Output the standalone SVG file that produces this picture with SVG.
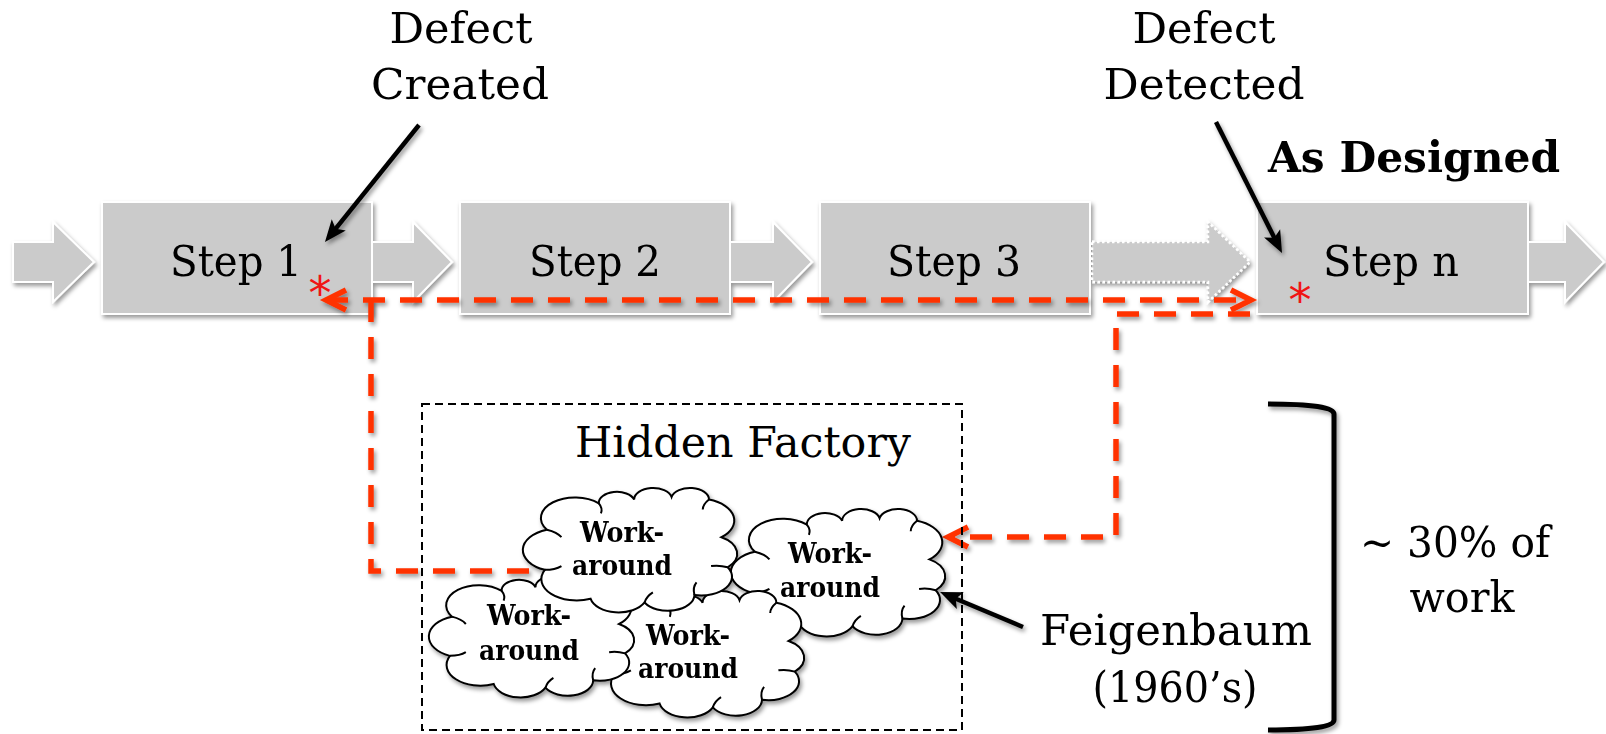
<svg xmlns="http://www.w3.org/2000/svg" xmlns:xlink="http://www.w3.org/1999/xlink" width="1606" height="734" viewBox="0 0 1606 734">
<defs>
<style>
.lbl{font-family:"DejaVu Serif","Liberation Serif",serif;font-size:42px;fill:#000;text-anchor:middle}
.bold{font-weight:bold}
.wk{font-family:"DejaVu Serif","Liberation Serif",serif;font-weight:bold;font-size:28px;fill:#000;text-anchor:middle}
.box{fill:#cbcbcb;stroke:#fff;stroke-width:2}
.blk{fill:#cbcbcb;stroke:#fff;stroke-width:2}
.dot{stroke-dasharray:2.5 2.5;stroke-width:2.5}
.red{fill:none;stroke:#ff3300;stroke-width:5.5;stroke-dasharray:22 15}
.ptr{fill:none;stroke:#000;stroke-width:4.5}
.star{font-family:"DejaVu Sans",sans-serif;font-size:46px;fill:#f01414;text-anchor:middle}
.cloud{fill:#fff;stroke:#000;stroke-width:2;vector-effect:non-scaling-stroke}
.crease{fill:none;stroke:#000;stroke-width:2;vector-effect:non-scaling-stroke}
.frame{fill:none;stroke:#000;stroke-width:2;stroke-dasharray:8 5}
</style>
<filter id="shadow" filterUnits="userSpaceOnUse" x="0" y="0" width="1606" height="734">
<feDropShadow dx="2" dy="3" stdDeviation="2" flood-color="#000" flood-opacity="0.4"/>
</filter>
<marker id="chev" markerUnits="userSpaceOnUse" overflow="visible" orient="auto-start-reverse" refX="0" refY="0" markerWidth="1" markerHeight="1">
<path d="M-20,-10 L0,0 L-20,10" fill="none" stroke="#ff3300" stroke-width="5.5"/>
</marker>
<marker id="head" markerUnits="userSpaceOnUse" overflow="visible" orient="auto" refX="0" refY="0" markerWidth="1" markerHeight="1">
<path d="M-10,-9 L12,0 L-10,9 L-5,0 Z" fill="#000"/>
</marker>
<!-- unit cloud, roughly 0..100 each way; scaled per instance -->
<g id="cloudUnit">
<path class="cloud" d="M9 34A16.4 16.4 0 0 1 34 13A8.7 8.7 0 0 1 51 10A9.1 9.1 0 0 1 69 8A9.1 9.1 0 0 1 87 10A17.5 17.5 0 0 1 93 40A15.2 15.2 0 0 1 96 64A14.8 14.8 0 0 1 80 86A12.8 12.8 0 0 1 56 92A13.8 13.8 0 0 1 30 89A17 17 0 0 1 8 66A17.1 17.1 0 0 1 9 34Z"/>
<path class="crease" d="M34 13Q36 17 35 21M87 10Q84 14 84 18M96 64Q92 62 88 63M80 86Q79 80 81 76M56 92Q57 87 60 84M8 66Q13 66 16 63M9 34Q14 36 16 40"/>
</g>
</defs>

<rect width="1606" height="734" fill="#fff"/>

<!-- process chain: block arrows and step boxes -->
<g id="flow" filter="url(#shadow)">
<path id="arrow-in" class="blk" d="M13 242H53V222L94 262L53 302V282H13Z"/>
<path id="arrow-1-2" class="blk" d="M368 242H413V222L452 262L413 302V282H368Z"/>
<path id="arrow-2-3" class="blk" d="M726 242H773V222L812 262L773 302V282H726Z"/>
<path id="arrow-3-n" class="blk dot" d="M1092 242H1208V222L1250 262L1208 302V282H1092Z"/>
<path id="arrow-out" class="blk" d="M1524 242H1565V222L1604 262L1565 302V282H1524Z"/>
<g id="step1"><rect class="box" x="102" y="202" width="270" height="112"/><text class="lbl" x="236" y="276" textLength="132" lengthAdjust="spacingAndGlyphs">Step 1</text></g>
<g id="step2"><rect class="box" x="460" y="202" width="270" height="112"/><text class="lbl" x="595" y="276" textLength="132" lengthAdjust="spacingAndGlyphs">Step 2</text></g>
<g id="step3"><rect class="box" x="820" y="202" width="270" height="112"/><text class="lbl" x="954" y="276" textLength="134" lengthAdjust="spacingAndGlyphs">Step 3</text></g>
<g id="stepn"><rect class="box" x="1257" y="202" width="271" height="112"/><text class="lbl" x="1391" y="276" textLength="136" lengthAdjust="spacingAndGlyphs">Step n</text></g>
</g>

<!-- defect markers -->
<g id="markers">
<text class="star" x="320" y="309">*</text>
<text class="star" x="1300" y="316">*</text>
</g>

<!-- connectors -->
<g id="connectors" filter="url(#shadow)">
<path class="red" d="M326 300H1251" marker-start="url(#chev)" marker-end="url(#chev)"/>
<path class="red" d="M1250 314H1116V537H948" marker-end="url(#chev)"/>
<path class="red" d="M371 300V571H745"/>
<line class="ptr" x1="419" y1="125" x2="332.5" y2="232.6" marker-end="url(#head)"/>
<line class="ptr" x1="1216" y1="122" x2="1276.6" y2="242.3" marker-end="url(#head)"/>
<line class="ptr" x1="1023" y1="627" x2="951.1" y2="596.7" marker-end="url(#head)"/>
<path class="ptr" style="stroke-width:5" d="M1268 404Q1334 404 1334 414V720Q1334 730 1268 730"/>
</g>

<!-- hidden factory -->
<g id="hidden-factory">
<rect class="frame" x="422" y="404" width="540" height="326"/>
<text class="lbl" x="743" y="457" textLength="336" lengthAdjust="spacingAndGlyphs">Hidden Factory</text>
<g filter="url(#shadow)">
<g id="cloud-b"><use xlink:href="#cloudUnit" transform="translate(736.2 508) scale(2.078 1.285)"/><text class="wk" x="830" y="563" textLength="84" lengthAdjust="spacingAndGlyphs">Work-</text><text class="wk" x="830" y="597" textLength="100" lengthAdjust="spacingAndGlyphs">around</text></g>
<g id="cloud-d"><use xlink:href="#cloudUnit" transform="translate(598.1 590) scale(2.049 1.275)"/><text class="wk" x="688" y="645" textLength="84" lengthAdjust="spacingAndGlyphs">Work-</text><text class="wk" x="688" y="678" textLength="100" lengthAdjust="spacingAndGlyphs">around</text></g>
<g id="cloud-c"><use xlink:href="#cloudUnit" transform="translate(434 575) scale(1.990 1.225)"/><text class="wk" x="529" y="625" textLength="84" lengthAdjust="spacingAndGlyphs">Work-</text><text class="wk" x="529" y="660" textLength="100" lengthAdjust="spacingAndGlyphs">around</text></g>
<g id="cloud-a"><use xlink:href="#cloudUnit" transform="translate(528.2 487) scale(2.078 1.255)"/><text class="wk" x="622" y="542" textLength="84" lengthAdjust="spacingAndGlyphs">Work-</text><text class="wk" x="622" y="575" textLength="100" lengthAdjust="spacingAndGlyphs">around</text></g>
</g>
</g>

<!-- annotations -->
<g id="label-created">
<text class="lbl" x="461" y="43" textLength="143" lengthAdjust="spacingAndGlyphs">Defect</text>
<text class="lbl" x="460" y="99" textLength="178" lengthAdjust="spacingAndGlyphs">Created</text>
</g>
<g id="label-detected">
<text class="lbl" x="1204" y="43" textLength="143" lengthAdjust="spacingAndGlyphs">Defect</text>
<text class="lbl" x="1204" y="99" textLength="201" lengthAdjust="spacingAndGlyphs">Detected</text>
</g>
<g id="label-designed">
<text class="lbl bold" x="1414" y="172" textLength="292" lengthAdjust="spacingAndGlyphs">As Designed</text>
</g>
<g id="label-feigenbaum">
<text class="lbl" x="1176" y="645" textLength="272" lengthAdjust="spacingAndGlyphs">Feigenbaum</text>
<text class="lbl" x="1175" y="702" textLength="165" lengthAdjust="spacingAndGlyphs">(1960’s)</text>
</g>
<g id="label-share">
<text class="lbl" x="1455" y="557" textLength="190" lengthAdjust="spacingAndGlyphs">~ 30% of</text>
<text class="lbl" x="1462" y="612" textLength="105" lengthAdjust="spacingAndGlyphs">work</text>
</g>
</svg>
